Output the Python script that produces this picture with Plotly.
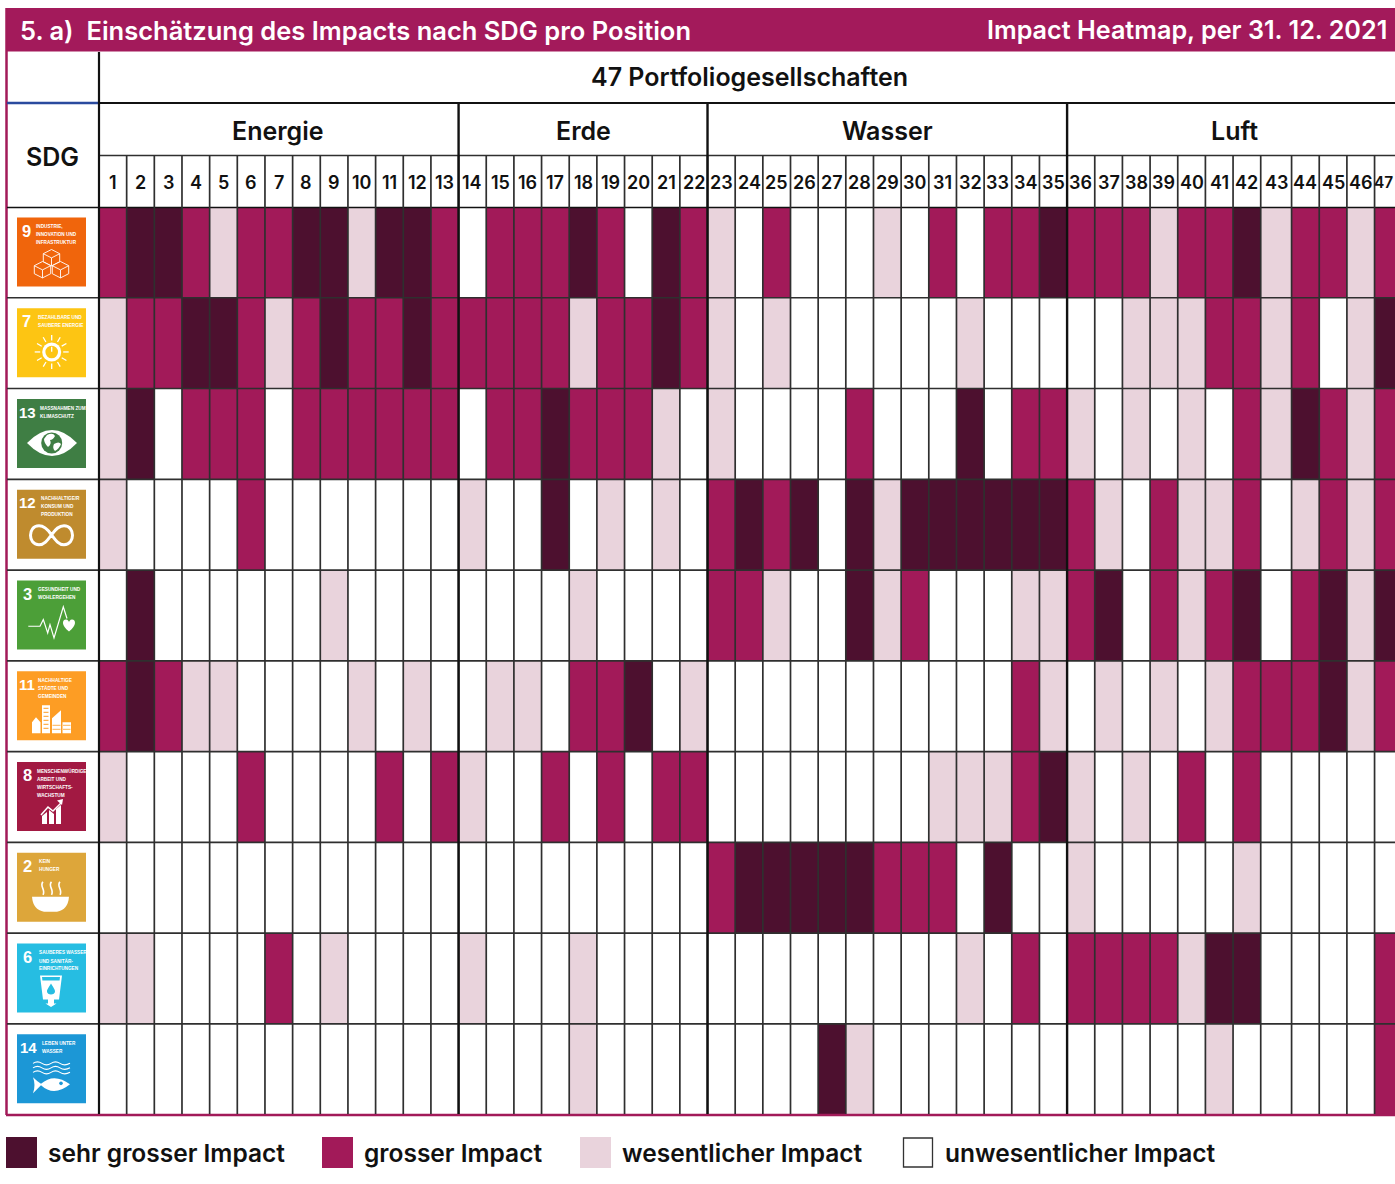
import math
import re
import plotly.graph_objects as go

# ---------- data ----------
positions = list(range(1, 48))
sectors = ["Energie", "Erde", "Wasser", "Luft"]
sector_sizes = [13, 9, 13, 12]
impact_levels = ["unwesentlicher Impact", "wesentlicher Impact", "grosser Impact", "sehr grosser Impact"]
sdg_ids = [9, 7, 13, 12, 3, 11, 8, 2, 6, 14]

sdg9 = [2,3,3,2,1,2,2,3,3,1,3,3,2, 0,2,2,2,3,2,0,3,2, 1,0,2,0,0,0,1,0,2,0,2,2,3, 2,2,2,1,2,2,3,1,2,2,1,2]
sdg7 = [1,2,2,3,3,2,1,2,3,2,2,3,2, 2,2,2,2,1,2,2,3,2, 1,0,1,0,0,0,0,0,0,1,0,0,0, 0,0,1,1,1,2,2,1,2,0,1,3]
sdg13 = [1,3,0,2,2,2,0,2,2,2,2,2,2, 0,2,2,3,2,2,2,1,0, 1,0,0,0,0,2,0,0,0,3,0,2,2, 1,0,1,0,1,0,2,1,3,2,1,2]
sdg12 = [1,0,0,0,0,2,0,0,0,0,0,0,0, 1,0,0,3,0,1,0,1,0, 2,3,2,3,0,3,1,3,3,3,3,3,3, 2,1,0,2,1,1,2,0,1,2,1,2]
sdg3 = [0,3,0,0,0,0,0,0,1,0,0,0,0, 0,0,0,0,1,0,0,0,0, 2,2,1,0,0,3,1,2,0,0,0,1,1, 2,3,0,2,1,2,3,0,2,3,1,3]
sdg11 = [2,3,2,1,1,0,0,0,0,1,0,1,0, 0,1,1,0,2,2,3,0,1, 0,0,0,0,0,0,0,0,0,0,0,2,1, 0,1,0,1,0,1,2,2,2,3,1,2]
sdg8 = [1,0,0,0,0,2,0,0,0,0,2,0,2, 1,0,0,2,0,2,0,2,2, 0,0,0,0,0,0,0,0,1,1,1,2,3, 1,0,1,0,2,0,2,0,0,0,0,0]
sdg2 = [0,0,0,0,0,0,0,0,0,0,0,0,0, 0,0,0,0,0,0,0,0,0, 2,3,3,3,3,3,2,2,2,0,3,0,0, 1,0,0,0,0,0,1,0,0,0,0,0]
sdg6 = [1,1,0,0,0,0,2,0,1,0,0,0,0, 1,0,0,0,1,0,0,0,0, 0,0,0,0,0,0,0,0,0,1,0,2,0, 2,2,2,2,1,3,3,0,0,0,0,2]
sdg14 = [0,0,0,0,0,0,0,0,0,0,0,0,0, 0,0,0,0,1,0,0,0,0, 0,0,0,0,3,1,0,0,0,0,0,0,0, 0,0,0,0,0,1,0,0,0,0,0,2]
impact = [sdg9, sdg7, sdg13, sdg12, sdg3, sdg11, sdg8, sdg2, sdg6, sdg14]

sdg_labels = {
    9: ["INDUSTRIE,", "INNOVATION UND", "INFRASTRUKTUR"],
    7: ["BEZAHLBARE UND", "SAUBERE ENERGIE"],
    13: ["MASSNAHMEN ZUM", "KLIMASCHUTZ"],
    12: ["NACHHALTIGE/R", "KONSUM UND", "PRODUKTION"],
    3: ["GESUNDHEIT UND", "WOHLERGEHEN"],
    11: ["NACHHALTIGE", "STÄDTE UND", "GEMEINDEN"],
    8: ["MENSCHENWÜRDIGE", "ARBEIT UND", "WIRTSCHAFTS-", "WACHSTUM"],
    2: ["KEIN", "HUNGER"],
    6: ["SAUBERES WASSER", "UND SANITÄR-", "EINRICHTUNGEN"],
    14: ["LEBEN UNTER", "WASSER"],
}

# ---------- style and layout ----------
W, H = 1395, 1184
WHITE, LIGHT, MAGENTA, DARK = "#FFFFFF", "#E9D3DC", "#A21A59", "#4D102F"
level_colors = [WHITE, LIGHT, MAGENTA, DARK]
FONT = "Inter"
TILE_FONT = "Liberation Sans"
GRID_L, COL_W = 99.0, 27.66
GRID_T, ROW_H = 207.0, 90.76
WIDE_COL, WIDE_EXTRA = 43, 3.2 / 27.66
tile_color = {9: "#F0650C", 7: "#FDC513", 13: "#3F7E44", 12: "#BF8B2E", 3: "#4C9F38",
              11: "#FD9D24", 8: "#A21942", 2: "#DDA63A", 6: "#26BDE2", 14: "#1C97D6"}
tile_num_x = {9: 9, 7: 9.5, 13: 10, 12: 10, 3: 10, 11: 10, 8: 10, 2: 10, 6: 10, 14: 11}
tile_lab_x = {9: 17, 7: 19, 13: 21, 12: 22, 3: 19, 11: 19, 8: 18, 2: 20, 6: 20, 14: 23}

x_edges = [0.5 + i + (WIDE_EXTRA if i >= WIDE_COL else 0) for i in range(48)]
y_edges = list(range(len(impact) + 1))
px_x = lambda v: GRID_L + (v - 0.5) * COL_W
px_y = lambda v: GRID_T + v * ROW_H

fig = go.Figure()
n = len(level_colors)
scale = []
for i, c in enumerate(level_colors):
    scale += [[i / n, c], [(i + 1) / n, c]]
fig.add_trace(go.Heatmap(x=x_edges, y=y_edges, z=impact, zmin=-0.5, zmax=3.5, colorscale=scale,
                         showscale=False, hoverinfo="skip", xaxis="x", yaxis="y"))

# legend swatches live on the pixel overlay axes
legend_order = [3, 2, 1, 0]
legend_x = [21.5, 337.5, 595.5, 918]
fig.add_trace(go.Scatter(x=legend_x, y=[1152.5] * 4, mode="markers", xaxis="x2", yaxis="y2",
                         hoverinfo="skip", showlegend=False,
                         marker=dict(symbol="square", size=[31, 31, 31, 29], opacity=1,
                                     color=[level_colors[i] for i in legend_order],
                                     line=dict(width=[0, 0, 0, 1.3], color="#333333"))))

shapes, annots = [], []

def line(x0, y0, x1, y1, color="#2F2F2F", width=1.7):
    shapes.append(dict(type="line", xref="x2", yref="y2", x0=x0, y0=y0, x1=x1, y1=y1,
                       line=dict(color=color, width=width), layer="above"))

def text(x, y, s, size, color="#111111", anchor="center", weight=600, family=FONT):
    annots.append(dict(xref="x2", yref="y2", x=x, y=y, text=s, showarrow=False, xanchor=anchor,
                       yanchor="middle", font=dict(family=family, size=size, color=color, weight=weight)))

def rect(x0, y0, x1, y1, color):
    shapes.append(dict(type="rect", xref="x2", yref="y2", x0=x0, y0=y0, x1=x1, y1=y1,
                       fillcolor=color, line=dict(width=0), layer="above"))

def offset(path, ox, oy):
    out, k = [], 0
    for tok in re.findall(r"[MLCQZ]|-?\d+\.?\d*", path):
        if tok.isalpha():
            out.append(tok)
        else:
            out.append(f"{float(tok) + (ox if k % 2 == 0 else oy):.2f}")
            k += 1
    return " ".join(out)

def ipath(path, ox, oy, fill=None, stroke=None, width=1.0):
    shapes.append(dict(type="path", xref="x2", yref="y2", path=offset(path, ox, oy), layer="above",
                       fillcolor=fill if fill else "rgba(0,0,0,0)",
                       line=dict(color=stroke if stroke else "rgba(0,0,0,0)", width=width if stroke else 0)))

def cube(cx, top, ox, oy, c):
    a, b, h = 8.2, 4.2, 8.0
    d = (f"M{cx},{top} L{cx+a},{top+b} L{cx+a},{top+b+h} L{cx},{top+2*b+h} L{cx-a},{top+b+h} L{cx-a},{top+b} Z "
         f"M{cx-a},{top+b} L{cx},{top+2*b} L{cx+a},{top+b} M{cx},{top+2*b} L{cx},{top+2*b+h}")
    ipath(d, ox, oy, fill=c, stroke="#FFFFFF", width=0.9)

def circle(cx, cy, r, ox, oy, color):
    shapes.append(dict(type="circle", xref="x2", yref="y2", x0=ox+cx-r, x1=ox+cx+r, y0=oy+cy-r, y1=oy+cy+r,
                       fillcolor=color, line=dict(width=0), layer="above"))

def draw_icon(s, ox, oy):
    c = tile_color[s]
    w = "#FFFFFF"
    if s == 9:
        cube(34.5, 32, ox, oy, c); cube(25.5, 44, ox, oy, c); cube(43.5, 44, ox, oy, c)
    elif s == 7:
        for k in range(12):
            t = k * math.pi / 6
            ipath(f"M{34.7+11.5*math.cos(t):.1f},{43.7+11.5*math.sin(t):.1f} "
                  f"L{34.7+17*math.cos(t):.1f},{43.7+17*math.sin(t):.1f}", ox, oy, stroke=w, width=1.3)
        circle(34.7, 43.7, 9.5, ox, oy, w)
        circle(34.7, 43.7, 6.3, ox, oy, c)
        ipath("M34.7,38.5 L34.7,43.5", ox, oy, stroke=w, width=1.3)
    elif s == 13:
        ipath("M10,44 Q35,18 60,44 Q35,70 10,44 Z", ox, oy, fill=w)
        circle(34.7, 44, 10.5, ox, oy, c)
        ipath("M30,36 Q36,33 38,37 Q36,41 33,41 Q35,45 31,48 Q27,44 27,40 Z M37,45 Q42,42 44,45 Q42,50 38,52 Q35,49 37,45 Z",
              ox, oy, fill=w)
    elif s == 12:
        ipath("M34.5,45 C29,37 24,36 22,36 C16,36 13.5,41 13.5,45.5 C13.5,50 16,55 22,55 C27,55 30,51 34.5,45 "
              "C39,39 42,36 47,36 C53,36 55.5,41 55.5,45.5 C55.5,50 53,55 47,55 C42,55 39,51 34.5,45",
              ox, oy, stroke=w, width=3)
    elif s == 3:
        ipath("M11.3,45.7 L23,45.7 L26.3,39 L30.7,52.3 L33,44 L37,57.3 L46.3,26.3 L50,38", ox, oy, stroke=w, width=1.2)
        ipath("M52,51 C44,45 45,39 49,39 C51,39 52,41 52,42 C52,41 53,39 55,39 C59,39 60,45 52,51 Z", ox, oy, fill=w)
    elif s == 11:
        ipath("M25,34 L33,34 L33,62 L25,62 Z M15,51 L19,46 L23.5,51 L23.5,62 L15,62 Z "
              "M35,62 L35,47 L44,39 L44,62 Z M45.5,51 L54,51 L54,62 L45.5,62 Z", ox, oy, fill=w)
        for yy in range(37, 61, 4):
            ipath(f"M26.5,{yy} L31.5,{yy}", ox, oy, stroke=c, width=1)
        for yy in (54, 58):
            ipath(f"M35.5,{yy} L43.5,{yy} M46,{yy} L53.5,{yy}", ox, oy, stroke=c, width=0.8)
    elif s == 8:
        ipath("M25,54 L30,50 L30,62 L25,62 Z M32,48 L37,52 L37,62 L32,62 Z M39,47 L44,43 L44,62 L39,62 Z", ox, oy, fill=w)
        ipath("M24,53 L31,45 L36,49 L44,41", ox, oy, stroke=w, width=1.5)
        ipath("M40,38.5 L46,37 L45,43 Z", ox, oy, fill=w)
    elif s == 2:
        ipath("M15,44 L52,44 Q51,57 40,59 L27,59 Q16,57 15,44 Z", ox, oy, fill=w)
        for sx in (26, 34.5, 43):
            ipath(f"M{sx},29 C{sx-4},33 {sx+3},37 {sx},42", ox, oy, stroke=w, width=1.6)
    elif s == 6:
        ipath("M23,32 L45,32 L42,56 L37,56 L37,60 L39.5,60 L34,63.5 L28.5,60 L31,60 L31,56 L26,56 Z", ox, oy, fill=w)
        ipath("M25,33.5 L43,33.5 L42.6,37 L25.4,37 Z", ox, oy, fill=c)
        ipath("M34,40 C37,45 38,46 38,48 C38,52 30,52 30,48 C30,46 31,45 34,40 Z", ox, oy, fill=c)
    elif s == 14:
        for yy in (29, 33.5, 38):
            ipath(f"M16,{yy} Q20.5,{yy-3} 25,{yy} Q29.5,{yy+3} 34,{yy} Q38.5,{yy-3} 43,{yy} Q47.5,{yy+3} 53,{yy}",
                  ox, oy, stroke=w, width=1.1)
        ipath("M16,43 Q20,47 24,49.5 Q37,38 53,50 Q37,63 24,51 Q20,55 16,59 Q19,51 16,43 Z", ox, oy, fill=w)
        circle(44, 49, 1.8, ox, oy, c)

# header band and outer frame
rect(6, 8, W, 51.5, "#A31A5B")
line(6.5, 8, 6.5, 1115, MAGENTA, 2.5)
line(6, 1115, W, 1115, MAGENTA, 2.5)
text(18, 30, "5. a)  Einschätzung des Impacts nach SDG pro Position", 25.5, "#FFFFFF", "left", 600)
text(1389, 30, "Impact Heatmap, per 31. 12. 2021", 25.2, "#FFFFFF", "right", 600)

# grid
line(7, 103, 98.5, 103, "#2A4A9E", 2.5)
line(98, 103, W, 103, "#111111", 2.2)
line(99, 155.5, W, 155.5)
line(7, 207.5, W, 207.5, "#111111", 1.6)
for r in range(1, len(impact)):
    line(7, px_y(r), W, px_y(r))
for e in x_edges[1:]:
    line(px_x(e), 155.5, px_x(e), 1114)
line(99, 52, 99, 1114, "#111111", 2.2)
start = 0
for size in sector_sizes[:-1]:
    start += size
    line(px_x(x_edges[start]), 104, px_x(x_edges[start]), 1114, "#111111", 2.4)

# headings
text(749, 76.5, "47 Portfoliogesellschaften", 25)
text(52, 157, "SDG", 25)
sector_centers = [278, 583, 887, 1234]
for name, cx in zip(sectors, sector_centers):
    text(cx, 131, name, 25)
for i, p in enumerate(positions):
    if p == positions[-1]:
        # the last column runs off the page: its label is kept whole just inside the edge
        text(W - 0.5, 182, str(p), 15.5, anchor="right")
    else:
        text((px_x(x_edges[i]) + px_x(x_edges[i + 1])) / 2, 182, str(p), 18)

# SDG tiles
TILE_X, TILE_S = 17, 69
for r, s in enumerate(sdg_ids):
    oy = px_y(r) + 10.5
    rect(TILE_X, oy, TILE_X + TILE_S, oy + TILE_S, tile_color[s])
    text(TILE_X + tile_num_x[s], oy + 13, str(s), 16.5 if s < 10 else 15, "#FFFFFF", weight=700, family=TILE_FONT)
    for k, lab in enumerate(sdg_labels[s]):
        text(TILE_X + tile_lab_x[s], oy + 9 + 8 * k, lab, 4.7, "#FFFFFF", "left", 700, TILE_FONT)
    draw_icon(s, TILE_X, oy)

# legend labels
legend_text_x = [46, 362, 620, 943]
for i, tx in zip(legend_order, legend_text_x):
    text(tx, 1152.5, impact_levels[i], 24.5, anchor="left")

fig.update_layout(
    width=W, height=H, autosize=False, margin=dict(l=0, r=0, t=0, b=0),
    paper_bgcolor="#FFFFFF", plot_bgcolor="rgba(0,0,0,0)", showlegend=False,
    xaxis=dict(visible=False, fixedrange=True, domain=[0, 1],
               range=[0.5 - GRID_L / COL_W, 0.5 + (W - GRID_L) / COL_W]),
    yaxis=dict(visible=False, fixedrange=True, domain=[0, 1],
               range=[(H - GRID_T) / ROW_H, -GRID_T / ROW_H]),
    xaxis2=dict(visible=False, fixedrange=True, overlaying="x", range=[0, W], anchor="y2"),
    yaxis2=dict(visible=False, fixedrange=True, overlaying="y", range=[H, 0], anchor="x2"),
    shapes=shapes, annotations=annots,
)
fig.write_html("out.html", config={"displayModeBar": False},
               post_script="document.body.style.margin='0';document.documentElement.style.overflow='hidden';")
